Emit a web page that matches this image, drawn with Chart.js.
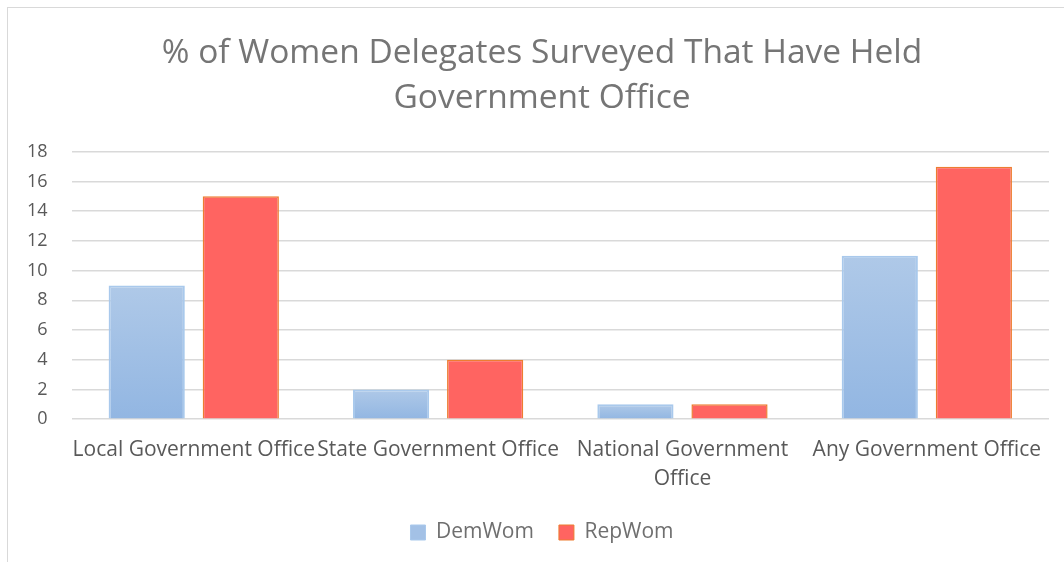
<!DOCTYPE html>
<html>
<head>
<meta charset="utf-8">
<script src="https://cdn.jsdelivr.net/npm/chart.js@4"></script>
<style>
  html, body { margin: 0; padding: 0; background: #fff; overflow: hidden; }
  #frame {
    position: absolute; left: 7px; top: 7px;
    width: 1090px; height: 570px;
    border: 1px solid #d9d9d9;
  }
  #wrap { position: absolute; left: 0; top: 0; width: 1084px; height: 562px; }
</style>
</head>
<body>
<div id="frame"></div>
<div id="wrap"><canvas id="officeChart" width="1084" height="562"></canvas></div>
<script>
const offices = [
  "Local Government Office",
  "State Government Office",
  ["National Government", "Office"],
  "Any Government Office",
];
const demWom = [9, 2, 1, 11];
const repWom = [15, 4, 1, 17];
const yTicks = [0, 2, 4, 6, 8, 10, 12, 14, 16, 18];

const font = "'Open Sans', 'Noto Sans', sans-serif";

// light-to-darker blue fill, per bar
let blueFill = function (ctx) {
  const chart = ctx.chart;
  if (!chart.chartArea || ctx.type !== "data") return "#a3c1e6";
  const y = chart.scales.y;
  const top = y.getPixelForValue(ctx.raw);
  const bottom = y.getPixelForValue(0);
  const g = chart.ctx.createLinearGradient(0, top, 0, bottom);
  g.addColorStop(0, "#afc9e8");
  g.addColorStop(1, "#92b6e2");
  return g;
};

new Chart(document.getElementById("officeChart").getContext("2d"), {
  type: "bar",
  data: {
    labels: offices,
    datasets: [
      {
        label: "DemWom",
        data: demWom,
        backgroundColor: blueFill,
        borderColor: "#a9c9ec",
        borderWidth: 2,
      },
      {
        label: "RepWom",
        data: repWom,
        backgroundColor: "#ff6461",
        borderColor: "#ed7d31",
        borderWidth: 1.5,
      },
    ],
  },
  options: {
    responsive: false,
    animation: false,
    categoryPercentage: 0.77,
    barPercentage: 0.81,
    layout: { padding: { left: 3, right: 3, top: 31, bottom: 9 } },
    plugins: {
      title: {
        display: true,
        text: ["% of Women Delegates Surveyed That Have Held", "Government Office"],
        color: "#757575",
        font: { family: font, size: 33.5, weight: "normal", lineHeight: 1.34 },
        padding: { top: 0, bottom: 31 },
      },
      legend: {
        position: "bottom",
        labels: {
          color: "#6f6f6f",
          font: { family: font, size: 21 },
          boxWidth: 15,
          boxHeight: 15,
          padding: 25,
          generateLabels: function (chart) {
            return chart.data.datasets.map(function (ds, i) {
              return {
                text: ds.label,
                fillStyle: i === 0 ? "#a3c1e6" : "#ff6461",
                strokeStyle: ds.borderColor,
                lineWidth: 1,
                fontColor: "#6f6f6f",
                datasetIndex: i,
              };
            });
          },
        },
      },
      tooltip: { enabled: false },
    },
    scales: {
      x: {
        grid: { display: false },
        border: { display: false },
        ticks: {
          color: "#595959",
          font: { family: font, size: 21, lineHeight: 1.4 },
          maxRotation: 0,
          autoSkip: false,
          padding: 8,
        },
        afterFit: function (axis) {
          axis.height -= 5;
        },
      },
      y: {
        min: 0,
        max: 18,
        afterBuildTicks: function (axis) {
          axis.ticks = yTicks.map(function (v) { return { value: v }; });
        },
        grid: { color: "#d9d9d9", lineWidth: 1.5, drawTicks: false },
        border: { display: false },
        ticks: {
          color: "#595959",
          font: { family: font, size: 18 },
          padding: 24,
        },
      },
      // empty right-hand margin beside the plot
      yRight: {
        position: "right",
        grid: { display: false },
        border: { display: false },
        ticks: { display: false },
        afterFit: function (axis) {
          axis.width = 32;
        },
      },
    },
  },
});
</script>
</body>
</html>
